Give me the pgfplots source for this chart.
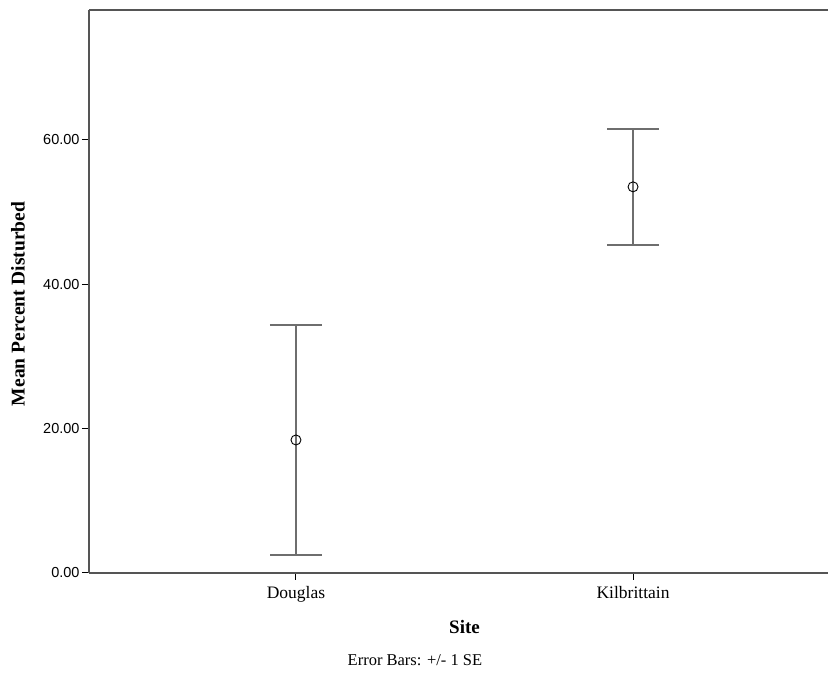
\documentclass[border=0pt]{standalone}
\usepackage{fontspec}
\setmainfont{Liberation Serif}
\newfontfamily\ticksf{Liberation Sans}
\usepackage{pgfplots}
\pgfplotsset{compat=1.18}
\definecolor{axgray}{HTML}{555555}
\definecolor{bargray}{HTML}{6E6E6E}
\begin{document}
\begin{tikzpicture}
\begin{axis}[
  name=ax,
  scale only axis,
  width=751bp, height=563bp,
  xmin=-0.614, xmax=1.614,
  ymin=0, ymax=78,
  axis x line*=bottom, axis y line*=left,
  axis line style={axgray, line width=1.6bp},
  tick align=outside,
  xtick={0,1}, xticklabels={Douglas,Kilbrittain},
  ytick={0,20,40,60},
  major tick length=7bp,
  tick style={black, line width=1bp},
  /pgf/number format/assume math mode=true,
  yticklabel={\pgfmathprintnumber[fixed,fixed zerofill,precision=2]{\tick}},
  yticklabel style={font=\ticksf\fontsize{14.5bp}{16bp}\selectfont, xshift=1bp},
  xticklabel style={font=\fontsize{17.5bp}{19bp}\selectfont, yshift=-3bp},
  xlabel={Site},
  ylabel={Mean Percent Disturbed},
  xlabel style={font=\bfseries\fontsize{19bp}{21bp}\selectfont, at={(rel axis cs:0.5,0)}, anchor=center, yshift=-54bp},
  ylabel style={font=\bfseries\fontsize{19.5bp}{21bp}\selectfont, at={(rel axis cs:0,0.478)}, anchor=center, yshift=71bp},
  clip=false,
]
\addplot[
  only marks, mark=o, mark size=5bp,
  mark options={black, line width=0.9bp},
  error bars/.cd, y dir=both, y explicit,
  error bar style={bargray, line width=1.6bp},
  error mark options={rotate=90, mark size=26bp, bargray, line width=1.6bp},
] table[x=x, y=y, y error=e] {
x y e
0 18.43 15.94
1 53.50 8.04
};
\draw[axgray, line width=1.6bp] (rel axis cs:0,1) -- (rel axis cs:1,1);
\node[font=\fontsize{16.5bp}{18bp}\selectfont] at (rel axis cs:0.434,0) [yshift=-87bp] {Error Bars: +/- 1 SE};
\end{axis}
\pgfresetboundingbox
\path[use as bounding box] ([shift={(-89bp,-106bp)}]ax.south west) rectangle ([shift={(-12bp,10bp)}]ax.north east);
\end{tikzpicture}
\end{document}
